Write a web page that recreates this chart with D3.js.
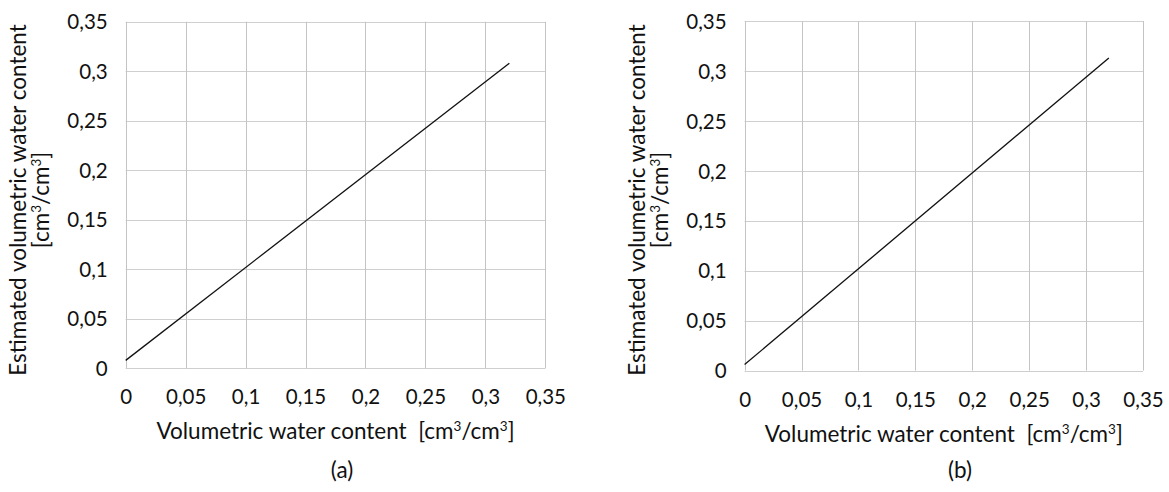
<!DOCTYPE html>
<html>
<head>
<meta charset="utf-8">
<script src="https://cdn.jsdelivr.net/npm/d3@7"></script>
<style>
  html, body { margin: 0; padding: 0; background: #fff; }
  text { font-family: Lato, "Open Sans", sans-serif; fill: #111; white-space: pre; }
</style>
</head>
<body>
<svg id="chart" width="1169" height="492"></svg>
<script>
// ---- data ----
const xTicks = [0, 0.05, 0.1, 0.15, 0.2, 0.25, 0.3, 0.35];
const yTicks = [0, 0.05, 0.1, 0.15, 0.2, 0.25, 0.3, 0.35];
const tickLabels = ["0", "0,05", "0,1", "0,15", "0,2", "0,25", "0,3", "0,35"];
const seriesAx = [0, 0.32];
const seriesAy = [0.008, 0.308];
const seriesBx = [0, 0.32];
const seriesBy = [0.006, 0.313];
const captions = ["(a)", "(b)"];
const yTitle1 = "Estimated volumetric water content";

const panels = [
  { left: 125.7, right: 545.3, top: 21.7, bottom: 368.3, xs: seriesAx, ys: seriesAy, cap: captions[0], capX: 342 },
  { left: 744.6, right: 1143.0, top: 21.0, bottom: 370.6, xs: seriesBx, ys: seriesBy, cap: captions[1], capX: 960 }
];

const svg = d3.select("#chart");
const fmt = v => tickLabels[xTicks.findIndex(t => Math.abs(t - v) < 1e-9)];
const FONT = 'Lato, "Open Sans", sans-serif';
const TICK = 20.5, TITLE = 22.5, SUP = 13.5;

function unitText(sel, prefix) {
  sel.append("tspan").text(prefix + "[cm");
  sel.append("tspan").text("3").attr("font-size", SUP).attr("dy", -8);
  sel.append("tspan").text("/cm").attr("dy", 8);
  sel.append("tspan").text("3").attr("font-size", SUP).attr("dy", -8);
  sel.append("tspan").text("]").attr("dy", 8);
}

panels.forEach(p => {
  const x = d3.scaleLinear().domain([0, 0.35]).range([p.left, p.right]);
  const y = d3.scaleLinear().domain([0, 0.35]).range([p.bottom, p.top]);
  const g = svg.append("g");

  // grid
  g.append("g").selectAll("line").data(yTicks).join("line")
    .attr("x1", p.left).attr("x2", p.right)
    .attr("y1", d => Math.round(y(d)) + 0.5).attr("y2", d => Math.round(y(d)) + 0.5)
    .attr("stroke", "#cfcfcf").attr("stroke-width", 1);
  g.append("g").selectAll("line").data(xTicks).join("line")
    .attr("y1", p.top).attr("y2", p.bottom)
    .attr("x1", d => Math.round(x(d)) + 0.5).attr("x2", d => Math.round(x(d)) + 0.5)
    .attr("stroke", "#c4c4c4").attr("stroke-width", 1);

  // axes (labels only)
  const xAxis = d3.axisBottom(x).tickValues(xTicks).tickFormat(fmt).tickSize(0).tickPadding(0);
  const xa = g.append("g").attr("transform", `translate(0,${p.bottom + 29})`).call(xAxis);
  xa.select(".domain").remove();
  xa.selectAll("text").attr("font-size", TICK).attr("fill", "#111").attr("dy", "0.35em")
    .style("font-family", FONT);

  const yAxis = d3.axisLeft(y).tickValues(yTicks).tickFormat(fmt).tickSize(0).tickPadding(0);
  const ya = g.append("g").attr("transform", `translate(${p.left - 18},0)`).call(yAxis);
  ya.select(".domain").remove();
  ya.selectAll("text").attr("font-size", TICK).attr("fill", "#111").attr("dy", "0.35em")
    .style("font-family", FONT);

  // series line
  const pts = p.xs.map((v, i) => [v, p.ys[i]]);
  g.append("path").datum(pts)
    .attr("d", d3.line().x(d => x(d[0])).y(d => y(d[1])))
    .attr("fill", "none").attr("stroke", "#111").attr("stroke-width", 1.3);

  // x title
  const cx = (p.left + p.right) / 2;
  const xt = g.append("text").attr("x", cx).attr("y", p.bottom + 71)
    .attr("text-anchor", "middle").attr("font-size", TITLE);
  unitText(xt, "Volumetric water content  ");

  // y title
  const yt = g.append("g").attr("transform", `translate(${p.left - 100},200) rotate(-90)`);
  yt.append("text").attr("x", 0).attr("y", 0).attr("text-anchor", "middle")
    .attr("font-size", TITLE).text(yTitle1);
  const y2 = yt.append("text").attr("x", 0).attr("y", 23).attr("text-anchor", "middle").attr("font-size", TITLE);
  unitText(y2, "");

  // caption
  g.append("text").attr("x", p.capX).attr("y", 478).attr("text-anchor", "middle")
    .attr("font-size", TITLE).text(p.cap);
});
</script>
</body>
</html>
